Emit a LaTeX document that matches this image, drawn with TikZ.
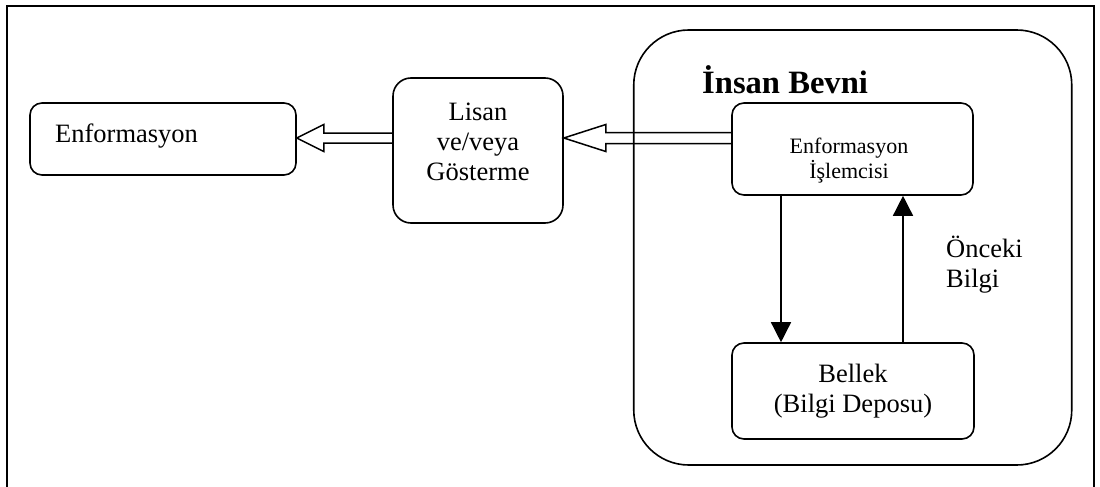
\documentclass[tikz,border=0pt]{standalone}
\usepackage{fontspec}
\setmainfont{Liberation Serif}
\usetikzlibrary{arrows.meta,calc}
\begin{document}
\begin{tikzpicture}[x=1pt,y=-1pt,
  box/.style={draw,line width=1.6pt,rounded corners=12pt,inner sep=0pt},
  txt/.style={anchor=base,inner sep=0pt,font=\fontsize{26.5}{30}\selectfont},
  stxt/.style={anchor=base,inner sep=0pt,font=\fontsize{22}{25}\selectfont},
  hollow/.style={draw,line width=1.5pt,line join=miter},
  flow/.style={line width=1.5pt,-{Triangle[length=20pt,width=20pt]}}]
\useasboundingbox (0,0) rectangle (1100,487);
% outer frame (open at the bottom)
\draw[line width=1.8pt] (7,487) -- (7,6) -- (1094,6) -- (1094,487);
% brain
\node[draw,line width=1.6pt,rounded corners=55pt,minimum width=438pt,minimum height=435pt] (brain) at (852.75,247.5) {};
\node[anchor=base west,inner sep=0pt,font=\fontsize{32.6}{36}\selectfont\bfseries] (title) at (702,93) {İnsan Bevni};
% boxes
\node[box,minimum width=266pt,minimum height=72pt] (info) at (163,139) {};
\node[box,rounded corners=18pt,minimum width=170pt,minimum height=145pt] (lisan) at (478,150.5) {};
\node[box,minimum width=241pt,minimum height=92pt] (proc) at (852.5,149) {};
\node[box,minimum width=242pt,minimum height=96pt] (mem) at (853,391) {};
% texts
\node[txt,anchor=base west] (infoT) at (55,142) {Enformasyon};
\node[txt] (lisanT1) at (478,120) {Lisan};
\node[txt] (lisanT2) at (478,150) {ve/veya};
\node[txt] (lisanT3) at (478,180) {Gösterme};
\node[stxt] (procT1) at (849,153) {Enformasyon};
\node[stxt] (procT2) at (849,178) {İşlemcisi};
\node[txt] (memT1) at (853,382) {Bellek};
\node[txt] (memT2) at (853,412) {(Bilgi Deposu)};
\node[txt,anchor=base west] (prevT1) at (946,257) {Önceki};
\node[txt,anchor=base west] (prevT2) at (946,287) {Bilgi};
% hollow arrow proc -> lisan
\coordinate (t2) at (lisan.east |- 0,138);
\draw[hollow] (proc.west |- 0,132.5) -- ($(t2)+(42,-5.5)$) -- ($(t2)+(42,-13.5)$) -- (t2)
  -- ($(t2)+(42,13.5)$) -- ($(t2)+(42,5.5)$) -- (proc.west |- 0,143.5);
% hollow arrow lisan -> info
\coordinate (t1) at (info.east |- 0,138);
\draw[hollow] (lisan.west |- 0,133) -- ($(t1)+(27,-5)$) -- ($(t1)+(27,-13.5)$) -- (t1)
  -- ($(t1)+(27,13.5)$) -- ($(t1)+(27,5)$) -- (lisan.west |- 0,143);
% proc <-> memory
\draw[flow] (proc.south -| 781,0) -- (mem.north -| 781,0);
\draw[flow] (mem.north -| 903,0) -- (proc.south -| 903,0);
\end{tikzpicture}
\end{document}
